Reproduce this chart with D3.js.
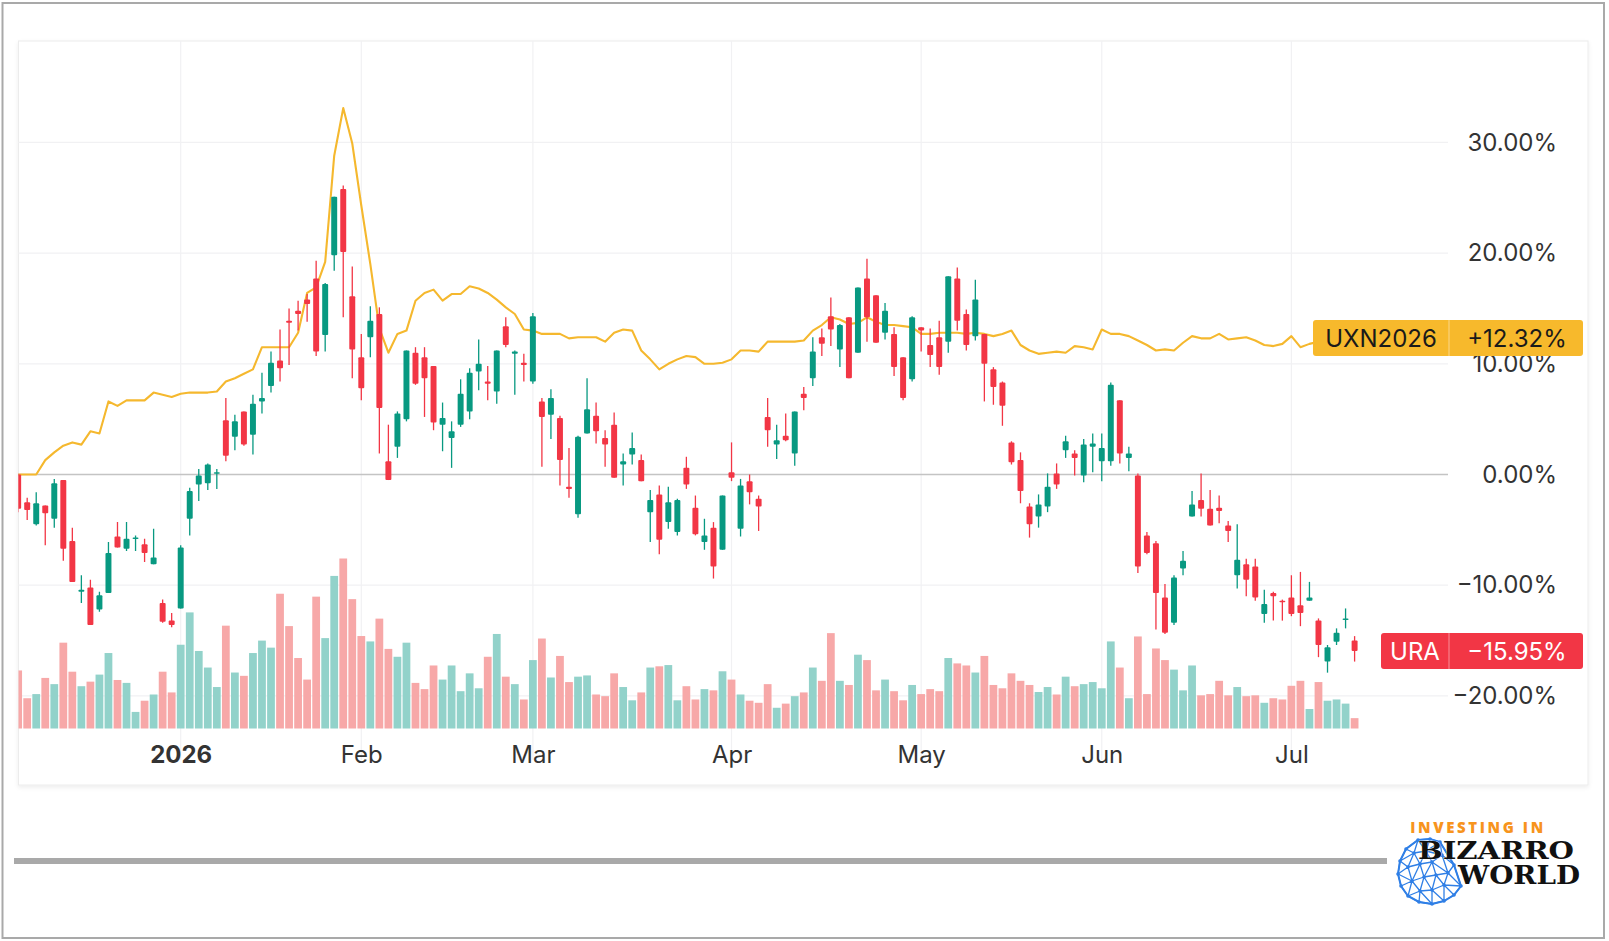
<!DOCTYPE html>
<html><head><meta charset="utf-8">
<script src="https://cdn.jsdelivr.net/npm/d3@7"></script>
<style>
html,body{margin:0;padding:0;background:#fff;}
svg{display:block;}
</style></head><body>
<svg id="chart" width="1609" height="941" font-family="Inter, 'Noto Sans', sans-serif"></svg>
<script>
// ---------- DATA ----------
const firstDay = "2025-12-05", lastDay = "2026-07-13";
const marketHolidays = ["2025-12-25","2026-01-01","2026-01-19","2026-02-16","2026-04-03","2026-05-25","2026-06-19","2026-07-03"];

// URA, % change vs start
const uraOpen = [0.0,-2.5,-4.5,-2.8,-4.0,-0.5,-6.0,-10.6,-10.2,-12.2,-10.7,-5.6,-6.7,-5.8,-6.3,-8.1,-11.6,-13.2,-12.1,-4.0,-0.9,-0.8,0.1,4.9,3.4,5.7,3.6,6.6,8.0,10.3,13.9,14.8,15.8,17.7,12.6,19.8,25.8,16.1,10.6,12.4,14.5,1.2,2.5,5.0,11.0,10.6,9.8,4.5,3.3,4.5,5.7,9.3,8.4,7.5,13.4,10.9,10.1,8.4,6.6,5.4,5.1,-1.1,-3.6,3.7,5.3,3.3,4.5,0.9,1.8,1.3,-3.4,-1.8,-4.3,-5.2,0.6,-3.0,-6.1,-4.8,-6.8,0.2,-4.9,-0.6,-2.2,5.2,2.7,3.5,1.9,7.3,8.7,12.4,14.3,11.3,14.2,11.0,17.7,16.2,12.8,12.7,10.6,8.6,13.3,11.7,12.4,12.0,17.7,14.5,12.5,12.7,9.5,8.3,2.9,1.3,-2.9,-3.8,-2.9,0.1,2.2,1.9,-0.1,2.5,1.2,1.2,6.7,1.5,-0.1,-5.5,-6.2,-11.1,-13.4,-8.5,-3.8,-2.3,-3.1,-3.0,-4.6,-9.1,-8.1,-8.3,-12.6,-10.7,-11.4,-11.1,-11.8,-11.4,-13.2,-16.9,-15.1,-13.1,-15.0];
const uraHigh = [0.1,-2.1,-1.6,-2.8,-0.4,-0.5,-4.8,-9.1,-9.5,-10.6,-6.1,-4.3,-4.3,-5.5,-5.8,-4.9,-11.3,-12.5,-6.4,-1.2,0.5,1.0,0.5,6.9,5.4,5.7,7.2,9.2,11.1,13.1,15.0,15.7,16.3,19.3,17.3,25.1,26.1,18.8,12.7,15.2,15.1,4.5,5.7,11.2,11.5,11.5,9.8,6.5,4.8,8.6,9.6,12.2,9.8,11.2,14.2,11.2,10.9,14.6,6.9,7.7,5.3,2.4,3.5,8.7,6.5,4.0,5.6,1.9,3.8,1.8,-1.4,-1.0,-1.1,-2.2,1.6,-1.9,-4.0,-4.3,-1.9,2.9,-0.4,0.0,-1.9,6.9,4.5,5.5,5.7,7.9,12.4,13.2,16.0,13.6,14.2,16.9,19.5,16.2,15.5,13.3,10.6,14.3,13.3,13.2,13.9,17.9,18.7,14.9,17.6,12.7,9.7,8.4,3.0,2.0,-2.6,-1.8,0.1,1.0,3.5,2.2,3.2,3.7,3.7,8.3,6.7,2.5,0.1,-5.2,-6.0,-9.9,-9.1,-6.9,-1.5,0.1,-1.4,-1.9,-4.2,-4.5,-7.6,-7.6,-10.4,-10.6,-11.3,-9.1,-8.8,-9.7,-13.0,-15.4,-13.9,-12.1,-14.6];
const uraLow = [-3.4,-4.1,-4.6,-6.4,-4.8,-7.8,-9.7,-11.6,-13.6,-12.4,-10.7,-6.6,-6.9,-6.9,-7.9,-8.1,-13.4,-13.8,-12.1,-5.5,-2.4,-1.4,-1.3,1.2,2.2,2.6,1.8,5.5,7.4,8.4,9.9,13.0,13.8,10.7,11.1,18.4,14.2,8.7,6.7,10.6,1.9,-0.5,1.5,4.8,8.1,5.2,4.0,2.1,0.6,4.3,5.0,7.6,6.7,6.4,11.5,7.2,8.4,8.2,0.7,3.2,-1.0,-2.1,-3.9,3.7,2.8,0.7,-0.3,-1.0,0.9,-0.6,-6.1,-7.2,-4.9,-5.5,-1.3,-5.5,-6.8,-9.4,-6.8,-0.6,-5.6,-2.7,-5.1,2.5,1.4,3.0,0.8,5.8,8.0,10.7,11.6,9.7,8.7,11.0,12.0,11.9,12.2,8.9,6.7,8.4,11.1,9.7,9.0,11.0,13.0,11.2,12.1,6.6,6.3,4.4,0.9,-2.6,-5.7,-4.8,-3.4,-1.3,1.5,-0.1,-0.7,0.2,-0.6,0.8,1.0,0.3,-8.9,-7.2,-14.0,-14.4,-13.6,-9.1,-3.8,-3.8,-4.6,-4.4,-6.1,-10.3,-11.0,-11.4,-13.4,-13.2,-13.2,-12.8,-13.7,-11.4,-16.5,-17.9,-15.4,-13.9,-16.9];
const uraClose = [-3.1,-3.2,-2.6,-3.5,-0.8,-6.7,-9.7,-10.4,-13.6,-10.9,-7.1,-6.6,-5.8,-5.7,-7.1,-7.5,-13.3,-13.6,-6.6,-1.5,-0.1,0.9,0.2,1.7,4.8,2.7,6.4,6.9,10.1,9.6,13.7,14.5,15.4,11.1,17.2,25.1,20.1,11.3,7.8,13.9,6.0,-0.5,5.5,11.2,8.2,8.7,4.7,5.1,3.9,7.3,9.2,10.0,8.2,11.2,11.7,11.1,9.9,14.3,5.2,6.9,1.3,-1.3,3.4,5.9,3.9,2.7,-0.3,1.2,2.4,-0.6,-2.3,-5.9,-2.5,-2.3,-0.9,-5.4,-5.5,-8.3,-1.9,-0.3,-1.0,-1.6,-2.9,4.0,3.1,3.1,5.7,6.9,11.1,11.8,13.1,13.5,8.7,16.9,14.2,11.9,14.8,9.7,6.9,14.2,13.0,10.8,9.7,17.9,13.9,11.7,15.8,10.0,7.9,6.2,1.1,-1.5,-4.5,-2.7,-1.1,-0.9,3.0,1.5,2.7,2.8,2.4,8.1,1.9,1.9,-8.3,-7.1,-10.7,-14.3,-9.3,-7.8,-2.7,-3.1,-4.6,-3.3,-5.1,-7.7,-9.5,-11.1,-11.7,-11.0,-11.5,-12.6,-12.5,-11.1,-15.4,-15.6,-14.3,-13.0,-15.95];
// URA volume, thousands of shares
const uraVolume = [3500,1825,2075,3050,2675,5175,3425,2550,2825,3250,4550,2925,2750,1000,1675,2050,3425,2175,5050,7000,4675,3675,2500,6200,3375,3175,4550,5300,4875,8125,6175,4250,2950,7950,5450,9200,10250,7800,5575,5250,6625,4800,4325,5175,2750,2375,3800,2950,3800,2250,3325,2425,4325,5700,3125,2675,1750,4125,5425,3075,4375,2800,3125,3200,2050,1950,3325,2500,1700,2175,3675,3750,3825,1700,2550,1750,2375,2300,3450,2950,2050,1675,1550,2675,1250,1500,1950,2175,3675,2875,5750,2875,2625,4450,4125,2300,2950,2250,1700,2625,2075,2375,2250,4250,3925,3800,3375,4375,2625,2425,3325,2875,2625,2200,2500,2050,3125,2550,2675,2800,2425,5250,3675,1825,5550,2075,4825,4125,3550,2300,3800,2000,2075,2875,2000,2500,1950,2000,1550,1825,1750,2575,2875,1175,2800,1675,1750,1500,625];
// UXN2026 uranium futures, % change vs start
const uxnPct = [0,0,0,1.3,2.0,2.6,2.9,2.7,3.9,3.7,6.6,6.2,6.7,6.7,6.7,7.4,7.2,7.0,7.3,7.4,7.4,7.4,7.5,8.4,8.7,9.1,9.5,11.5,11.5,11.5,11.5,12.8,16.4,16.9,19.2,28.8,33.1,29.9,24.3,19.0,13.2,11.0,12.7,13.0,15.7,16.4,16.7,15.7,16.3,16.3,17.0,16.8,16.4,15.8,15.1,14.5,13.1,13.0,12.7,12.7,12.7,12.3,12.4,12.4,12.4,12.0,12.8,13.1,13.0,11.2,10.4,9.5,10.0,10.4,10.7,10.6,10.0,10.0,10.1,10.4,11.2,11.2,11.1,12.0,12.0,12.0,12.0,12.1,13.0,13.5,14.2,14.0,13.6,13.7,14.2,13.8,13.5,13.5,13.4,13.3,12.7,12.7,12.8,12.8,12.8,12.7,12.8,12.7,12.5,12.7,13.0,11.7,11.2,10.9,11.0,11.1,11.0,11.6,11.5,11.3,13.1,12.7,12.7,12.5,12.1,11.7,11.2,11.3,11.2,11.9,12.5,12.3,12.3,12.7,12.2,12.3,12.4,12.1,11.7,11.6,11.8,12.5,11.5,11.8,12.0,12.1,12.2,12.3,12.32];

const yTicks = [-20,-10,0,10,20,30];
const monthTickDates = ["2026-01-02","2026-02-02","2026-03-02","2026-04-01","2026-05-01","2026-06-01","2026-07-01"];
const monthTickLabels = ["2026","Feb","Mar","Apr","May","Jun","Jul"];
const uraName = "URA", uxnName = "UXN2026";

// ---------- SETUP ----------
const parseDay = d3.timeParse("%Y-%m-%d"), fmtDay = d3.timeFormat("%Y-%m-%d");
const dates = d3.timeDay.range(parseDay(firstDay), d3.timeDay.offset(parseDay(lastDay),1))
  .filter(d => d.getDay() !== 0 && d.getDay() !== 6)
  .map(fmtDay)
  .filter(s => !marketHolidays.includes(s));

const rows = dates.map((d,i) => ({date:d, o:uraOpen[i], h:uraHigh[i], l:uraLow[i], c:uraClose[i], v:uraVolume[i], u:uxnPct[i]}));

const svg = d3.select("#chart");
const P = {left:18.5, top:41, right:1588, bottom:785, plotRight:1448};
const FONT = "Inter, 'Noto Sans', sans-serif";

const x = d3.scalePoint().domain(dates).range([18.16, 18.16 + (dates.length-1)*9.03]);
const step = x.step();
const y = d3.scaleLinear().domain([-20,30]).range([695.9,142.4]);
const yv = d3.scaleLinear().domain([0, d3.max(uraVolume)]).range([728.5, 558.5]);

const UP = "#089981", DOWN = "#f23645", UPV = "#92d2ca", DOWNV = "#f7a8a8", LINE = "#f5b82e";

// outer frame
svg.append("rect").attr("x",0).attr("y",0).attr("width",1609).attr("height",941).attr("fill","#fff");
svg.append("rect").attr("x",2.5).attr("y",3).attr("width",1601.5).attr("height",935)
  .attr("fill","none").attr("stroke","#a9a9a9").attr("stroke-width",2);

const defs = svg.append("defs");
const f = defs.append("filter").attr("id","sh").attr("x","-2%").attr("y","-2%").attr("width","104%").attr("height","106%");
f.append("feDropShadow").attr("dx",0).attr("dy",2).attr("stdDeviation",2).attr("flood-color","#000").attr("flood-opacity",0.07);
defs.append("clipPath").attr("id","clip").append("rect")
  .attr("x",P.left).attr("y",P.top).attr("width",P.plotRight-P.left).attr("height",P.bottom-P.top);

// panel
svg.append("rect").attr("x",P.left).attr("y",P.top).attr("width",P.right-P.left).attr("height",P.bottom-P.top)
  .attr("fill","#fff").attr("stroke","#ececec").attr("stroke-width",1).attr("filter","url(#sh)");

// grid
const grid = svg.append("g");
grid.selectAll("line.v").data(monthTickDates).join("line")
  .attr("x1",d=>x(d)).attr("x2",d=>x(d)).attr("y1",P.top).attr("y2",P.bottom-25)
  .attr("stroke","#f1f1f3").attr("stroke-width",1.2);
grid.selectAll("line.h").data(yTicks).join("line")
  .attr("x1",P.left).attr("x2",P.plotRight).attr("y1",d=>y(d)).attr("y2",d=>y(d))
  .attr("stroke",d=>d===0?"#c4c4c4":"#f1f1f3").attr("stroke-width",d=>d===0?1.3:1.2);

const plot = svg.append("g").attr("clip-path","url(#clip)");

// volume
const vw = step*0.86;
plot.append("g").selectAll("rect").data(rows).join("rect")
  .attr("x",d=>x(d.date)-vw/2).attr("width",vw)
  .attr("y",d=>yv(d.v)).attr("height",d=>yv(0)-yv(d.v))
  .attr("fill",d=>d.c>=d.o?UPV:DOWNV);

// UXN line
plot.append("path").datum(rows)
  .attr("d", d3.line().x(d=>x(d.date)).y(d=>y(d.u)))
  .attr("fill","none").attr("stroke",LINE).attr("stroke-width",2.1).attr("stroke-linejoin","round");

// candles
const bw = step*0.66;
const cg = plot.append("g").selectAll("g").data(rows).join("g");
cg.append("line").attr("x1",d=>x(d.date)).attr("x2",d=>x(d.date))
  .attr("y1",d=>y(d.h)).attr("y2",d=>y(d.l))
  .attr("stroke",d=>d.c>=d.o?UP:DOWN).attr("stroke-width",1.3);
cg.append("rect").attr("x",d=>x(d.date)-bw/2).attr("width",bw)
  .attr("y",d=>y(Math.max(d.o,d.c)))
  .attr("height",d=>Math.max(1.5, Math.abs(y(d.o)-y(d.c))))
  .attr("rx",1)
  .attr("fill",d=>d.c>=d.o?UP:DOWN);

// y axis labels
const yAxis = d3.axisLeft(y).tickValues(yTicks).tickSize(0).tickPadding(0)
  .tickFormat(d => d3.format(".2f")(d) + "%");
const ya = svg.append("g").attr("transform","translate(1557,0)").call(yAxis);
ya.select(".domain").remove();
ya.attr("font-family",FONT);
ya.selectAll("text").attr("font-size",24).attr("fill","#333");

// x axis labels
const xAxis = d3.axisBottom(x).tickValues(monthTickDates).tickSize(0).tickPadding(0)
  .tickFormat((d,i)=>monthTickLabels[i]);
const xa = svg.append("g").attr("transform","translate(0,746)").call(xAxis);
xa.select(".domain").remove();
xa.attr("font-family",FONT);
xa.selectAll("text").attr("font-size",24).attr("fill","#333")
  .attr("font-weight",(d,i)=>i===0?700:400);

// last value labels
function tag(name, value, x0, fill, txt) {
  const yc = y(value), h = 36, xr = 1583, xd = 1449;
  const g = svg.append("g").attr("font-family",FONT);
  g.append("rect").attr("x",x0).attr("y",yc-h/2).attr("width",xr-x0).attr("height",h).attr("rx",3).attr("fill",fill);
  g.append("line").attr("x1",xd).attr("x2",xd).attr("y1",yc-h/2).attr("y2",yc+h/2).attr("stroke","rgba(255,255,255,0.45)").attr("stroke-width",1);
  const s = (value>0?"+":"") + d3.format(".2f")(value) + "%";
  g.append("text").attr("x",(x0+xd)/2).attr("y",yc).attr("dy","0.36em").attr("text-anchor","middle")
    .attr("font-size",24).attr("fill",txt).text(name);
  g.append("text").attr("x",(xd+xr)/2+1).attr("y",yc).attr("dy","0.36em").attr("text-anchor","middle")
    .attr("font-size",24).attr("fill",txt).text(s);
}
tag(uxnName, uxnPct[uxnPct.length-1], 1313, "#f7b92c", "#1a1a1a");
tag(uraName, uraClose[uraClose.length-1], 1381, DOWN, "#ffffff");

// bottom grey bar
svg.append("rect").attr("x",14).attr("y",858).attr("width",1373).attr("height",6).attr("fill","#a9a9a9");

// logo
const logo = svg.append("g");
const gc = [1430, 871];
const globePts = [
  [-12,-31],[-24,-22],[-30,-10],[-32,3],[-29,15],[-22,25],[-11,31],[2,33],[14,30],[24,24],[31,15],
  [0,-32],[10,-29],
  [-16,-18],[-4,-20],[-22,-4],[-10,-7],[2,-9],[-18,10],[-6,6],[6,4],[-10,20],[2,19],[14,14],[18,2],[12,-16],[24,-6]
];
const pts = globePts.map(p=>[gc[0]+p[0], gc[1]+p[1]]);
const del = d3.Delaunay.from(pts);
logo.append("path").attr("d", del.render()).attr("fill","none").attr("stroke","#2f7fe6").attr("stroke-width",1.3);
logo.append("path").attr("d", del.renderHull()).attr("fill","none").attr("stroke","#2f7fe6").attr("stroke-width",2);
logo.selectAll("circle").data(pts).join("circle").attr("cx",d=>d[0]).attr("cy",d=>d[1]).attr("r",1.8).attr("fill","#2f7fe6");
logo.append("text").attr("x",1478).attr("y",833).attr("text-anchor","middle")
  .attr("font-family","'Open Sans',sans-serif").attr("font-weight",800).attr("font-size",15)
  .attr("letter-spacing",2.6).attr("fill","#f7941d").text("INVESTING IN");
logo.append("text").attr("x",1418).attr("y",859).attr("textLength",156).attr("lengthAdjust","spacingAndGlyphs")
  .attr("font-family","'DejaVu Serif',serif").attr("font-weight",700).attr("font-size",24)
  .attr("fill","#111").attr("stroke","#fff").attr("stroke-width",0.6).attr("paint-order","stroke").text("BIZARRO");
logo.append("text").attr("x",1458).attr("y",884).attr("textLength",122).attr("lengthAdjust","spacingAndGlyphs")
  .attr("font-family","'DejaVu Serif',serif").attr("font-weight",700).attr("font-size",26)
  .attr("fill","#111").text("WORLD");
</script>
</body></html>
